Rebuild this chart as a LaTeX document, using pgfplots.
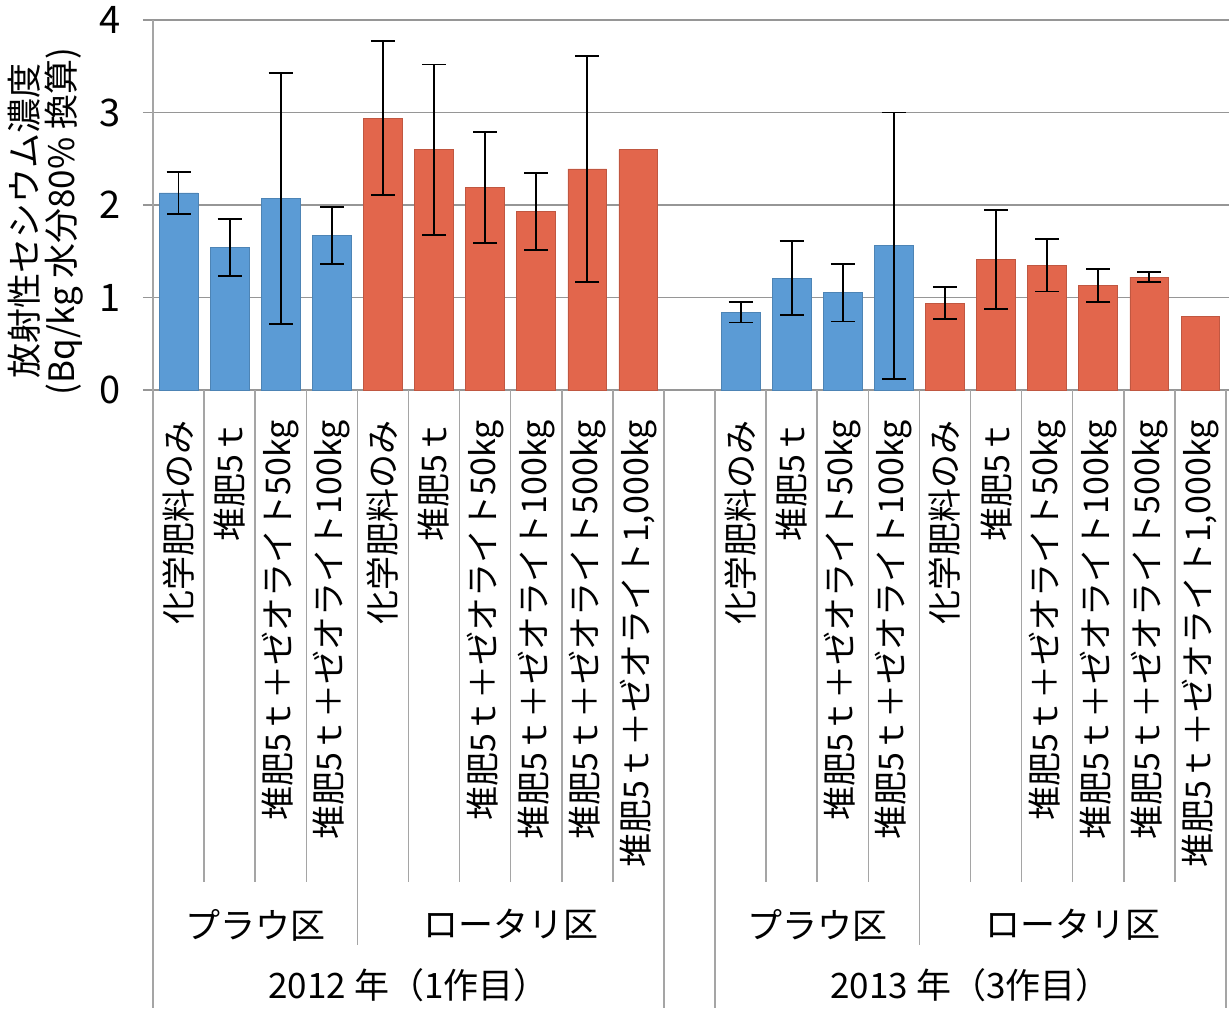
\documentclass[border=0pt]{standalone}
\usepackage{fontspec}
\setmainfont{Noto Sans CJK JP}
\usepackage{pgfplots}
\usepackage{pgfplotstable}
\pgfplotsset{compat=1.18}
\definecolor{barblue}{RGB}{91,155,213}
\definecolor{barred}{RGB}{226,102,76}
\definecolor{gridgray}{RGB}{150,150,150}
\definecolor{sepgray}{RGB}{165,165,165}
\newcommand{\lab}{\fontsize{17}{17}\selectfont}
\newcommand{\grp}{\fontsize{17.5}{18.25}\selectfont}

\pgfplotstableread{
x y e
0 2.13 0.23
1 1.54 0.31
2 2.07 1.36
3 1.67 0.31
11 0.84 0.11
12 1.21 0.40
13 1.05 0.31
14 1.56 1.44
}\plowdata
\pgfplotstableread{
x y e
4 2.94 0.83
5 2.60 0.92
6 2.19 0.60
7 1.93 0.42
8 2.39 1.22
15 0.94 0.175
16 1.41 0.535
17 1.35 0.285
18 1.13 0.18
19 1.22 0.055
}\rotarydata

\begin{document}
\begin{tikzpicture}
\begin{axis}[
  scale only axis, width=536.5pt, height=185pt,
  xmin=-0.5, xmax=20.5, ymin=0, ymax=4,
  ytick={0,1,2,3,4},
  ymajorgrids, grid style={gridgray, line width=0.75pt},
  axis line style={draw=none},
  tick align=outside, major tick length=5pt,
  y tick style={gridgray, line width=0.75pt},
  x tick style={draw=none},
  /pgf/number format/assume math mode=true,
  yticklabel style={font=\fontsize{19}{19}\selectfont, inner xsep=0pt, xshift=-11pt},
  xtick={0,1,2,3,4,5,6,7,8,9,11,12,13,14,15,16,17,18,19,20},
  xticklabels={化学肥料のみ,堆肥5ｔ,堆肥5ｔ＋ゼオライト50kg,堆肥5ｔ＋ゼオライト100kg,
    化学肥料のみ,堆肥5ｔ,堆肥5ｔ＋ゼオライト50kg,堆肥5ｔ＋ゼオライト100kg,堆肥5ｔ＋ゼオライト500kg,{堆肥5ｔ＋ゼオライト1,000kg},
    化学肥料のみ,堆肥5ｔ,堆肥5ｔ＋ゼオライト50kg,堆肥5ｔ＋ゼオライト100kg,
    化学肥料のみ,堆肥5ｔ,堆肥5ｔ＋ゼオライト50kg,堆肥5ｔ＋ゼオライト100kg,堆肥5ｔ＋ゼオライト500kg,{堆肥5ｔ＋ゼオライト1,000kg}},
  xticklabel style={rotate=90, anchor=east, font=\lab, inner xsep=10pt},
  ybar, bar width=0.76,
  clip=false,
]
\addplot[ybar, bar shift=0pt, fill=barblue, draw=barblue!85!black, line width=0.4pt,
  error bars/.cd, y dir=both, y explicit,
  error bar style={black, line width=0.9pt},
  error mark options={rotate=90, black, line width=0.9pt, mark size=6pt}]
  table[x=x, y=y, y error=e] {\plowdata};
\addplot[ybar, bar shift=0pt, fill=barred, draw=barred!85!black, line width=0.4pt,
  error bars/.cd, y dir=both, y explicit,
  error bar style={black, line width=0.9pt},
  error mark options={rotate=90, black, line width=0.9pt, mark size=6pt}]
  table[x=x, y=y, y error=e] {\rotarydata};
\addplot[ybar, bar shift=0pt, fill=barred, draw=barred!85!black, line width=0.4pt]
  coordinates {(9,2.60) (20,0.80)};

% separators
\draw[sepgray, line width=0.75pt] (axis cs:-0.5,4) -- ([yshift=-309pt]axis cs:-0.5,0);
\pgfplotsinvokeforeach{9.5,10.5,20.5}{
  \draw[sepgray, line width=0.75pt] (axis cs:#1,0) -- ([yshift=-309pt]axis cs:#1,0);
}
\pgfplotsinvokeforeach{3.5,14.5}{
  \draw[sepgray, line width=0.75pt] (axis cs:#1,0) -- ([yshift=-277.5pt]axis cs:#1,0);
}
\pgfplotsinvokeforeach{0.5,1.5,2.5,4.5,5.5,6.5,7.5,8.5,11.5,12.5,13.5,15.5,16.5,17.5,18.5,19.5}{
  \draw[sepgray, line width=0.75pt] (axis cs:#1,0) -- ([yshift=-246pt]axis cs:#1,0);
}
% group labels
\node[font=\grp] at ([yshift=-267.5pt]axis cs:1.5,0) {プラウ区};
\node[font=\grp] at ([yshift=-267.5pt]axis cs:6.5,0) {ロータリ区};
\node[font=\grp] at ([yshift=-267.5pt]axis cs:12.5,0) {プラウ区};
\node[font=\grp] at ([yshift=-267.5pt]axis cs:17.5,0) {ロータリ区};
\node[font=\grp] at ([yshift=-297.5pt]axis cs:4.5,0) {2012 年（1作目）};
\node[font=\grp] at ([yshift=-297.5pt]axis cs:15.5,0) {2013 年（3作目）};
\end{axis}
\node[rotate=90, align=center, font=\grp] at (-53.75pt,84.25pt) {放射性セシウム濃度\\(Bq/kg 水分80\% 換算)};
\pgfresetboundingbox
\path[use as bounding box] (-76.5pt,-310pt) rectangle (538pt,195pt);
\end{tikzpicture}
\end{document}
